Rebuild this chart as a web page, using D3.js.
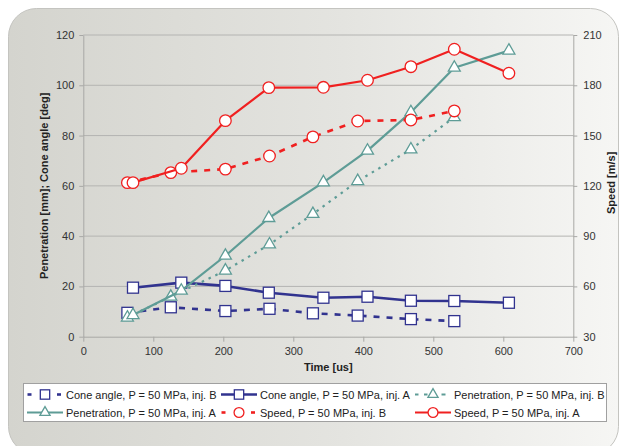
<!DOCTYPE html>
<html>
<head>
<meta charset="utf-8">
<script src="https://cdn.jsdelivr.net/npm/d3@7"></script>
<style>
  html, body { margin: 0; padding: 0; background: #ffffff; }
  svg { display: block; font-family: "Liberation Sans", Arial, sans-serif; }
</style>
</head>
<body>
<svg id="chart" width="619" height="446"></svg>
<script>
// Measurement times [us] for the two injectors
const timeA = [71, 140, 203, 265, 343, 406, 468, 530, 608];
const timeB = [63, 125, 203, 266, 328, 392, 468, 530];

// Cone angle [deg]
const coneA = [19.5, 21.5, 20.2, 17.5, 15.5, 15.9, 14.3, 14.2, 13.5];
const coneB = [9.5, 11.7, 10.2, 11.1, 9.3, 8.4, 7.0, 6.2];

// Penetration [mm]
const penA = [8.6, 18.3, 32.2, 47.2, 61.4, 74.0, 89.3, 107.0, 113.8];
const penB = [7.6, 15.9, 26.3, 36.7, 48.8, 61.9, 74.5, 87.3];

// Speed [m/s] (secondary axis)
const speedA = [121.9, 130.5, 158.9, 178.6, 178.8, 183.0, 191.1, 201.5, 187.2];
const speedB = [121.9, 127.9, 130.0, 137.8, 149.2, 158.7, 159.3, 164.7];

// Axis ticks
const xTicks = [0, 100, 200, 300, 400, 500, 600, 700];
const leftTicks = [0, 20, 40, 60, 80, 100, 120];
const rightTicks = [30, 60, 90, 120, 150, 180, 210];

const seriesNames = [
  "Cone angle, P = 50 MPa, inj. B",
  "Cone angle, P = 50 MPa, inj. A",
  "Penetration, P = 50 MPa, inj. B",
  "Penetration, P = 50 MPa, inj. A",
  "Speed, P = 50 MPa, inj. B",
  "Speed, P = 50 MPa, inj. A"
];

const NAVY = "#31338f", TEAL = "#5e9c96", RED = "#f02020";

const series = [
  { name: seriesNames[0], t: timeB, v: coneB, axis: "L", color: NAVY, width: 2.6, dash: "6,7", marker: "square" },
  { name: seriesNames[1], t: timeA, v: coneA, axis: "L", color: NAVY, width: 2.6, dash: null, marker: "square" },
  { name: seriesNames[2], t: timeB, v: penB, axis: "L", color: TEAL, width: 2.2, dash: "2.5,5", marker: "triangle" },
  { name: seriesNames[3], t: timeA, v: penA, axis: "L", color: TEAL, width: 2.2, dash: null, marker: "triangle" },
  { name: seriesNames[4], t: timeB, v: speedB, axis: "R", color: RED, width: 2.6, dash: "6,7", marker: "circle" },
  { name: seriesNames[5], t: timeA, v: speedA, axis: "R", color: RED, width: 2.2, dash: null, marker: "circle" }
];

const svg = d3.select("#chart");
const plot = { left: 83.3, right: 573.3, top: 35, bottom: 336.7 };

// Background panel with soft horizontal gradient
const defs = svg.append("defs");
const grad = defs.append("linearGradient").attr("id", "panelGrad")
  .attr("x1", "0%").attr("x2", "100%").attr("y1", "0%").attr("y2", "0%");
grad.append("stop").attr("offset", "0%").attr("stop-color", "#d4d4ce");
grad.append("stop").attr("offset", "55%").attr("stop-color", "#e4e4e0");
grad.append("stop").attr("offset", "100%").attr("stop-color", "#f6f6f4");

svg.append("rect")
  .attr("x", 8.5).attr("y", 8.5).attr("width", 610).attr("height", 446)
  .attr("rx", 28).attr("ry", 28)
  .attr("fill", "url(#panelGrad)")
  .attr("stroke", "#c4c4c0").attr("stroke-width", 1);

const x = d3.scaleLinear().domain([0, 700]).range([plot.left, plot.right]);
const yL = d3.scaleLinear().domain([0, 120]).range([plot.bottom, plot.top]);
const yR = d3.scaleLinear().domain([30, 210]).range([plot.bottom, plot.top]);

// Horizontal gridlines
svg.append("g")
  .selectAll("line")
  .data(leftTicks.filter(d => d > 0))
  .join("line")
  .attr("x1", plot.left).attr("x2", plot.right)
  .attr("y1", d => yL(d)).attr("y2", d => yL(d))
  .attr("stroke", "#b4b4b2").attr("stroke-width", 1);

function styleAxis(g) {
  g.select(".domain").attr("stroke", "#a8a8a6").attr("stroke-width", 1);
  g.selectAll(".tick line").attr("stroke", "#a8a8a6");
  g.selectAll(".tick text")
    .attr("fill", "#333333")
    .style("font-size", "11px")
    .style("font-family", "'Liberation Sans', Arial, sans-serif");
}

svg.append("g")
  .attr("transform", `translate(0,${plot.bottom})`)
  .call(d3.axisBottom(x).tickValues(xTicks).tickSize(5).tickPadding(6).tickSizeOuter(0))
  .call(styleAxis);

svg.append("g")
  .attr("transform", `translate(${plot.left},0)`)
  .call(d3.axisLeft(yL).tickValues(leftTicks).tickSize(4).tickPadding(5).tickSizeOuter(0))
  .call(styleAxis);

svg.append("g")
  .attr("transform", `translate(${plot.right},0)`)
  .call(d3.axisRight(yR).tickValues(rightTicks).tickSize(4).tickPadding(6).tickSizeOuter(0))
  .call(styleAxis);

// Axis titles
svg.append("text")
  .attr("x", (plot.left + plot.right) / 2).attr("y", 371)
  .attr("text-anchor", "middle")
  .style("font-size", "11px").style("font-weight", "bold").attr("fill", "#222")
  .text("Time [us]");

svg.append("text")
  .attr("transform", `translate(47.5,${(plot.top + plot.bottom) / 2}) rotate(-90)`)
  .attr("text-anchor", "middle")
  .style("font-size", "11px").style("font-weight", "bold").attr("fill", "#222")
  .text("Penetration [mm]; Cone angle [deg]");

svg.append("text")
  .attr("transform", `translate(615,${(plot.top + plot.bottom) / 2 - 3}) rotate(-90)`)
  .attr("text-anchor", "middle")
  .style("font-size", "11px").style("font-weight", "bold").attr("fill", "#222")
  .text("Speed [m/s]");

// Marker drawing (k scales the marker size)
function drawMarker(g, type, cx, cy, color, k = 1) {
  if (type === "square") {
    const h = 5.5 * k;
    g.append("rect")
      .attr("x", cx - h).attr("y", cy - h).attr("width", 2 * h).attr("height", 2 * h)
      .attr("fill", "#ffffff").attr("stroke", color).attr("stroke-width", 1.3);
  } else if (type === "triangle") {
    const p = d3.symbol().type(d3.symbolTriangle).size(62 * k * k)();
    g.append("path")
      .attr("d", p)
      .attr("transform", `translate(${cx},${cy})`)
      .attr("fill", "#ffffff").attr("stroke", color).attr("stroke-width", 1.3);
  } else {
    g.append("circle")
      .attr("cx", cx).attr("cy", cy).attr("r", 5.8 * k)
      .attr("fill", "#ffffff").attr("stroke", color).attr("stroke-width", 1.3);
  }
}

// Series lines and markers
series.forEach(s => {
  const yScale = s.axis === "L" ? yL : yR;
  const pts = s.t.map((t, i) => [t, s.v[i]]);
  const line = d3.line().x(d => x(d[0])).y(d => yScale(d[1]));
  const g = svg.append("g");
  g.append("path")
    .attr("d", line(pts))
    .attr("fill", "none")
    .attr("stroke", s.color)
    .attr("stroke-width", s.width)
    .attr("stroke-dasharray", s.dash)
    .attr("stroke-linejoin", "round");
  pts.forEach(d => drawMarker(g, s.marker, x(d[0]), yScale(d[1]), s.color));
});

// Legend
const legend = svg.append("g");
legend.append("rect")
  .attr("x", 23.5).attr("y", 383.5).attr("width", 583).attr("height", 38)
  .attr("fill", "#ffffff").attr("stroke", "#a0a0a0").attr("stroke-width", 1);

const colCenters = [45, 239, 433];
const rowCenters = [394.5, 412.5];
series.forEach((s, i) => {
  const cx = colCenters[i % 3];
  const cy = rowCenters[Math.floor(i / 3)];
  const g = legend.append("g");
  if (s.dash) {
    // short dashes either side of the marker
    const segs = s.marker === "triangle"
      ? [[-18, -14.5], [-9, -5.5], [8.5, 12.5]]
      : [[-17.5, -13.5], [12, 16]];
    segs.forEach(([a, b]) => {
      g.append("line")
        .attr("x1", cx + a).attr("x2", cx + b).attr("y1", cy).attr("y2", cy)
        .attr("stroke", s.color).attr("stroke-width", s.marker === "triangle" ? 2 : 2.6);
    });
  } else {
    g.append("line")
      .attr("x1", cx - 18).attr("x2", cx + 18).attr("y1", cy).attr("y2", cy)
      .attr("stroke", s.color).attr("stroke-width", s.width);
  }
  drawMarker(g, s.marker, cx, cy, s.color, 0.85);
  g.append("text")
    .attr("x", cx + 21).attr("y", cy + 4)
    .style("font-size", "11px").attr("fill", "#222")
    .text(s.name);
});
</script>
</body>
</html>
